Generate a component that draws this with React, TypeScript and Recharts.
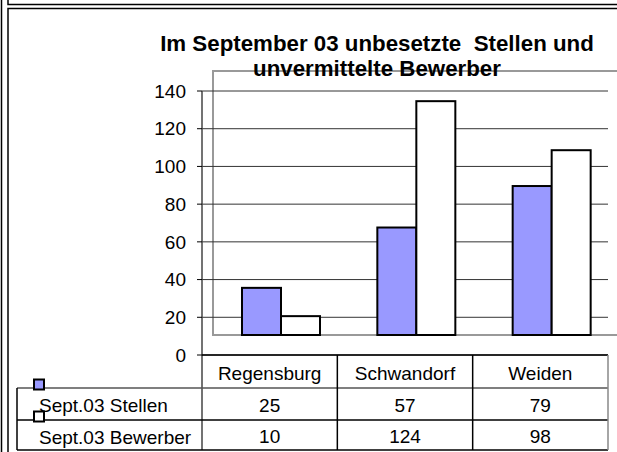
import React from 'react';
import { BarChart, Bar, XAxis, YAxis, CartesianGrid } from 'recharts';

const categories = ['Regensburg', 'Schwandorf', 'Weiden'];
const stellen = [25, 57, 79];
const bewerber = [10, 124, 98];
const seriesNames = ['Sept.03 Stellen', 'Sept.03 Bewerber'];
const yTicks = [0, 20, 40, 60, 80, 100, 120, 140];

const data = categories.map((name, i) => ({
  name,
  stellen: stellen[i],
  bewerber: bewerber[i],
}));

const FONT = '"Liberation Sans", Arial, sans-serif';
const W = 617;
const H = 452;
const PLOT_LEFT = 202;
const PLOT_RIGHT = 608;
const AXIS_Y = 355;
const BAND = (PLOT_RIGHT - PLOT_LEFT) / categories.length;

// 3D-style depth: columns sit on the back floor, shifted right and up
const DEPTH_X = 11;
const DEPTH_Y = 20;

const COLORS = {
  stellen: '#9999ff',
  bewerber: '#ffffff',
};

const DepthBar = (props: any) => {
  const { x, y, width, height, fill } = props;
  if (!height) return null;
  return (
    <rect
      x={x + DEPTH_X}
      y={y - DEPTH_Y}
      width={width}
      height={height}
      fill={fill}
      stroke="#000"
      strokeWidth={2}
    />
  );
};

const textStyle = { fontFamily: FONT, fontSize: 19, fill: '#000' };
const titleStyle = { fontFamily: FONT, fontSize: 22.3, fontWeight: 'bold' as const, whiteSpace: 'pre' as const };

const TableTick = (props: any) => {
  const { x, y, payload } = props;
  const i = payload.index;
  const last = i === categories.length - 1;
  return (
    <g>
      <line
        x1={x + BAND / 2}
        x2={x + BAND / 2}
        y1={y}
        y2={y + 95}
        stroke={last ? '#888' : '#000'}
        strokeWidth={1.5}
      />
      <text x={x} y={y + 18} textAnchor="middle" dominantBaseline="central" style={textStyle}>
        {payload.value}
      </text>
      <text x={x} y={y + 50} textAnchor="middle" dominantBaseline="central" style={textStyle}>
        {stellen[i]}
      </text>
      <text x={x} y={y + 81} textAnchor="middle" dominantBaseline="central" style={textStyle}>
        {bewerber[i]}
      </text>
    </g>
  );
};

const Overlay = () => (
  <svg width={W} height={H} style={{ position: 'absolute', left: 0, top: 0 }}>
    {/* outer frames */}
    <line x1={1.5} y1={0} x2={1.5} y2={H} stroke="#000" strokeWidth={1.5} />
    <polyline points={`8,0 8,4.5 ${W},4.5`} fill="none" stroke="#000" strokeWidth={1.5} />
    <polyline points={`8,${H} 8,8.5 ${W},8.5`} fill="none" stroke="#000" strokeWidth={1.5} />

    {/* title, first line */}
    <text x={377} y={43.5} textAnchor="middle" dominantBaseline="central" style={titleStyle}>
      {'Im September 03 unbesetzte  Stellen und'}
    </text>

    {/* back wall */}
    <polyline points={`${W},71 213,71 213,335 ${W},335`} fill="none" stroke="#999" strokeWidth={2} />

    {/* data table rules */}
    <line x1={PLOT_LEFT} y1={AXIS_Y} x2={PLOT_LEFT} y2={450} stroke="#444" strokeWidth={1.5} />
    <line x1={17} y1={388} x2={PLOT_RIGHT} y2={388} stroke="#555" strokeWidth={1.5} />
    <line x1={17} y1={420} x2={PLOT_RIGHT} y2={420} stroke="#000" strokeWidth={1.5} />
    <line x1={17} y1={450} x2={PLOT_RIGHT} y2={450} stroke="#000" strokeWidth={1.5} />
    <line x1={17} y1={388} x2={17} y2={450} stroke="#000" strokeWidth={1.5} />

    {seriesNames.map((name, i) => (
      <text key={name} x={39} y={405 + i * 32} dominantBaseline="central" style={textStyle}>
        {name}
      </text>
    ))}
  </svg>
);

const LegendKeys = () => (
  <svg width={W} height={H} style={{ position: 'absolute', left: 0, top: 0 }}>
    {[COLORS.stellen, COLORS.bewerber].map((c, i) => (
      <rect key={i} x={34} y={379.5 + i * 32} width={10} height={10} fill={c} stroke="#000" strokeWidth={2} />
    ))}
    <text x={377} y={68.5} textAnchor="middle" dominantBaseline="central" style={titleStyle}>
      unvermittelte Bewerber
    </text>
  </svg>
);

export default function App() {
  return (
    <div style={{ position: 'fixed', left: 0, top: 0, width: W, height: H, background: '#fff' }}>
      <Overlay />
      <div style={{ position: 'absolute', left: 0, top: 0 }}>
        <BarChart
          width={W}
          height={H}
          data={data}
          margin={{ top: 91, right: W - PLOT_RIGHT, bottom: 0, left: PLOT_LEFT - 60 }}
          barCategoryGap={29}
          barGap={0}
        >
          <CartesianGrid vertical={false} stroke="#333" strokeWidth={1} />
          <YAxis
            width={60}
            domain={[0, 140]}
            ticks={yTicks}
            interval={0}
            tickSize={5}
            tickMargin={11}
            axisLine={{ stroke: '#444', strokeWidth: 1.5 }}
            tickLine={{ stroke: '#000' }}
            tick={{ fontFamily: FONT, fontSize: 19, fill: '#000' }}
          />
          <XAxis
            dataKey="name"
            height={H - AXIS_Y}
            tickSize={0}
            tickMargin={0}
            tickLine={false}
            axisLine={{ stroke: '#000', strokeWidth: 1.5 }}
            tick={<TableTick />}
            interval={0}
          />
          <Bar dataKey="stellen" fill={COLORS.stellen} shape={<DepthBar />} isAnimationActive={false} />
          <Bar dataKey="bewerber" fill={COLORS.bewerber} shape={<DepthBar />} isAnimationActive={false} />
        </BarChart>
      </div>
      <LegendKeys />
    </div>
  );
}
